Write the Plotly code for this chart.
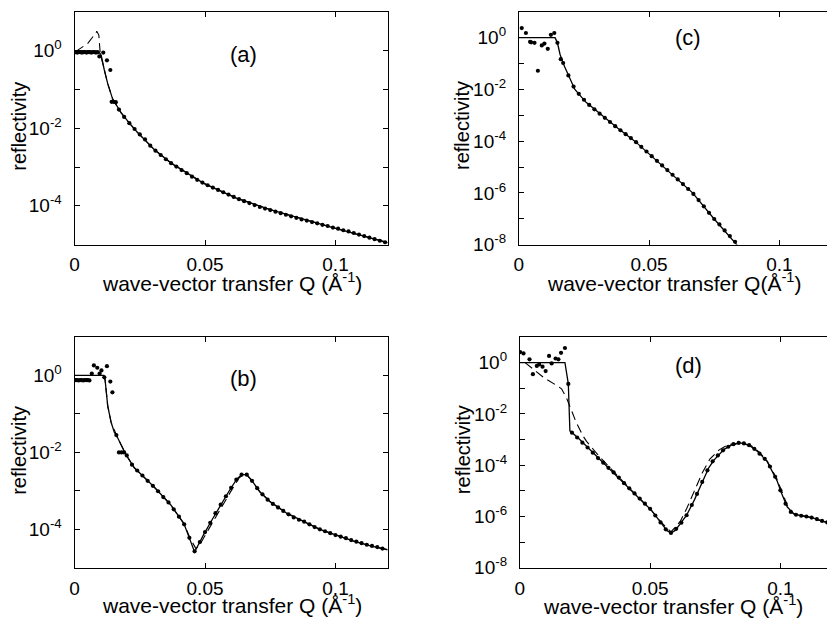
import numpy as np
import plotly.graph_objects as go

FONT = "Liberation Sans, Arial, Helvetica, sans-serif"

# ---------------- panel (a) ----------------
a_fit_q = [0.0, 0.0088, 0.0095, 0.0102, 0.0114, 0.0127, 0.0146, 0.0178, 0.021, 0.024, 0.0305,
           0.037, 0.0495, 0.062, 0.075, 0.0876, 0.1, 0.113, 0.12]
a_fit_logR = [0.0, -0.02, -0.05, -0.12, -0.5, -0.85, -1.25, -1.6, -1.87, -2.1, -2.55,
              -2.9, -3.42, -3.8, -4.1, -4.35, -4.58, -4.82, -4.95]
a_dash_q = [0.0005, 0.005, 0.0083, 0.0085, 0.0093, 0.0098, 0.0105, 0.0127, 0.0146, 0.0178, 0.021,
            0.024, 0.0305, 0.037, 0.0495, 0.062, 0.075, 0.0876, 0.1, 0.113, 0.12]
a_dash_logR = [-0.02, 0.18, 0.47, 0.5, 0.4, -0.05, -0.25, -0.85, -1.25, -1.6, -1.87,
               -2.1, -2.55, -2.9, -3.42, -3.8, -4.1, -4.35, -4.58, -4.82, -4.95]
a_data_q = [0.0004, 0.0010, 0.0016, 0.0022, 0.0028, 0.0034, 0.0040, 0.0046, 0.0052, 0.0058,
            0.0064, 0.0070, 0.0076, 0.0082, 0.0088, 0.0095, 0.0110, 0.0124, 0.0137,
            0.0142, 0.0150, 0.0158,
            0.017, 0.019, 0.021, 0.023, 0.025, 0.027, 0.029, 0.031, 0.033, 0.035, 0.037, 0.039,
            0.041, 0.043, 0.045, 0.047, 0.049, 0.051, 0.053, 0.055, 0.057, 0.059, 0.061, 0.063,
            0.065, 0.067, 0.069, 0.071, 0.073, 0.075, 0.077, 0.079, 0.081, 0.083, 0.085, 0.087,
            0.089, 0.091, 0.093, 0.095, 0.097, 0.099, 0.101, 0.103, 0.105, 0.107, 0.109, 0.111,
            0.113, 0.115, 0.117, 0.119]
a_data_logR = [-0.04, -0.05, -0.04, -0.04, -0.05, -0.04, -0.04, -0.05, -0.04, -0.04,
               -0.05, -0.04, -0.04, -0.05, -0.04, -0.15, -0.05, -0.25, -0.50,
               -1.32, -1.32, -1.33,
               -1.52, -1.71, -1.87, -2.02, -2.16, -2.29, -2.45, -2.58, -2.69, -2.80, -2.90, -2.99,
               -3.08, -3.16, -3.25, -3.33, -3.40, -3.47, -3.53, -3.59, -3.65, -3.71, -3.77, -3.83,
               -3.88, -3.93, -3.98, -4.03, -4.07, -4.11, -4.15, -4.19, -4.23, -4.27, -4.31, -4.35,
               -4.38, -4.42, -4.45, -4.49, -4.52, -4.56, -4.59, -4.63, -4.66, -4.70, -4.74, -4.78,
               -4.82, -4.86, -4.90, -4.94]

# ---------------- panel (b) ----------------
b_fit_q = [0.0, 0.0112, 0.0117, 0.0121, 0.0127, 0.014, 0.0152, 0.0165, 0.0178, 0.0197, 0.0229,
           0.0305, 0.0368, 0.0419, 0.0444, 0.046, 0.047, 0.0495, 0.0527, 0.0559, 0.059, 0.0622,
           0.0641, 0.066, 0.0679, 0.0711, 0.0749, 0.0813, 0.0876, 0.094, 0.1003, 0.1067, 0.113, 0.12]
b_fit_logR = [0.0, 0.0, -0.12, -0.37, -0.79, -1.22, -1.47, -1.62, -1.8, -2.06, -2.4,
              -2.9, -3.36, -3.85, -4.3, -4.59, -4.46, -4.13, -3.75, -3.37, -3.03, -2.69,
              -2.58, -2.58, -2.73, -3.03, -3.28, -3.58, -3.79, -4.0, -4.15, -4.3, -4.42, -4.53]
b_dash_q = [0.0, 0.0112, 0.0117, 0.0127, 0.014, 0.0165, 0.0197, 0.0229, 0.0305, 0.0368, 0.0419,
            0.0444, 0.0465, 0.048, 0.0505, 0.0537, 0.0569, 0.060, 0.063, 0.0645, 0.066, 0.0679,
            0.0711, 0.0749, 0.0813, 0.0876, 0.094, 0.1003, 0.1067, 0.113, 0.12]
b_dash_logR = [0.0, 0.0, -0.12, -0.79, -1.22, -1.62, -2.06, -2.4, -2.9, -3.36, -3.85,
               -4.25, -4.5, -4.4, -4.1, -3.72, -3.34, -3.0, -2.67, -2.58, -2.58, -2.73,
               -3.03, -3.28, -3.58, -3.79, -4.0, -4.15, -4.3, -4.42, -4.53]
b_data_q = [0.0003, 0.0009, 0.0015, 0.0021, 0.0027, 0.0033, 0.0039, 0.0045, 0.0051, 0.0057,
            0.0066, 0.0074, 0.0087, 0.0096, 0.0103, 0.0114, 0.0124, 0.0137, 0.0145, 0.0160,
            0.017, 0.018, 0.019, 0.020, 0.022, 0.024, 0.026, 0.028, 0.030, 0.032, 0.034, 0.036,
            0.038, 0.040, 0.042, 0.044, 0.046, 0.048, 0.050, 0.052, 0.054, 0.056, 0.058, 0.060,
            0.062, 0.064, 0.066, 0.068, 0.070, 0.072, 0.074, 0.076, 0.078, 0.080, 0.082, 0.084,
            0.086, 0.088, 0.090, 0.092, 0.094, 0.096, 0.098, 0.100, 0.102, 0.104, 0.106, 0.108,
            0.110, 0.112, 0.114, 0.116, 0.118]
b_data_logR = [-0.12, -0.12, -0.13, -0.12, -0.12, -0.13, -0.12, -0.12, -0.12, -0.13,
               0.05, 0.26, 0.20, 0.05, 0.13, -0.05, 0.24, -0.16, -0.44, -1.55,
               -2.0, -2.0, -2.0, -2.08, -2.32, -2.47, -2.60, -2.74, -2.87, -3.01, -3.16, -3.30,
               -3.48, -3.67, -3.87, -4.22, -4.57, -4.33, -4.07, -3.83, -3.58, -3.36, -3.14, -2.92,
               -2.71, -2.58, -2.58, -2.74, -2.93, -3.09, -3.23, -3.34, -3.43, -3.52, -3.61, -3.69,
               -3.75, -3.80, -3.87, -3.94, -4.00, -4.05, -4.10, -4.15, -4.19, -4.23, -4.28, -4.32,
               -4.36, -4.40, -4.43, -4.46, -4.50]

# ---------------- panel (c) ----------------
c_fit_q = [0.0, 0.0139, 0.0148, 0.0158, 0.0171, 0.019, 0.0215, 0.0258, 0.0317, 0.038, 0.0445,
           0.0557, 0.0667, 0.0749, 0.0839, 0.0845]
c_fit_logR = [0.0, 0.0, -0.2, -0.64, -1.02, -1.46, -2.0, -2.5, -3.0, -3.5, -4.0,
              -5.0, -6.0, -7.0, -8.0, -8.1]
c_data_q = [0.0011, 0.0027, 0.0043, 0.0047, 0.0060, 0.0073, 0.0088, 0.0098, 0.0111, 0.0123,
            0.0136, 0.0148, 0.0161,
            0.017, 0.019, 0.021, 0.023, 0.025, 0.027, 0.029, 0.031, 0.033, 0.035, 0.037, 0.039,
            0.041, 0.043, 0.045, 0.047, 0.049, 0.051, 0.053, 0.055, 0.057, 0.059, 0.061, 0.063,
            0.065, 0.067, 0.069, 0.071, 0.073, 0.075, 0.077, 0.079, 0.081, 0.083]
c_data_logR = [0.37, 0.18, -0.16, -0.18, -0.20, -1.28, -0.30, -0.23, -0.43, 0.11,
               0.18, -0.20, -0.83,
               -0.98, -1.46, -1.89, -2.17, -2.40, -2.60, -2.77, -2.94, -3.10, -3.26, -3.42, -3.58,
               -3.73, -3.88, -4.04, -4.22, -4.40, -4.58, -4.76, -4.94, -5.12, -5.30, -5.48, -5.66,
               -5.85, -6.04, -6.28, -6.52, -6.77, -7.01, -7.22, -7.45, -7.67, -7.89]

# ---------------- panel (d) ----------------
d_fit_q = [0.0, 0.0173, 0.0186, 0.0192, 0.0224, 0.0287, 0.0351, 0.0415, 0.0478, 0.0504, 0.0542,
           0.0565, 0.058, 0.0595, 0.0615, 0.064, 0.067, 0.070, 0.0725, 0.0745, 0.0784, 0.0815,
           0.0847, 0.088, 0.0911, 0.0949, 0.097, 0.0987, 0.1005, 0.1026, 0.1051, 0.108, 0.1115,
           0.1178, 0.12]
d_fit_logR = [0.0, 0.0, -0.83, -2.66, -2.94, -3.58, -4.21, -4.85, -5.49, -5.74, -6.25,
              -6.55, -6.64, -6.55, -6.3, -5.95, -5.35, -4.65, -4.1, -3.8, -3.38, -3.2,
              -3.13, -3.22, -3.45, -3.85, -4.25, -4.6, -5.1, -5.62, -5.9, -5.97, -6.02,
              -6.23, -6.3]
d_dash_q = [0.002, 0.0065, 0.009, 0.0141, 0.016, 0.018, 0.0205, 0.0215, 0.0243, 0.0256, 0.030,
            0.035, 0.040, 0.045, 0.050, 0.054, 0.058, 0.0615, 0.064, 0.067, 0.070, 0.073, 0.0765,
            0.080, 0.0847, 0.089, 0.092, 0.095, 0.0985, 0.1005, 0.1026, 0.105, 0.11, 0.1178]
d_dash_logR = [0.0, -0.38, -0.57, -0.89, -1.02, -1.4, -2.1, -2.3, -2.87, -3.07, -3.6,
               -4.15, -4.68, -5.2, -5.7, -6.2, -6.6, -6.2, -5.7, -5.0, -4.3, -3.75, -3.4,
               -3.2, -3.13, -3.25, -3.5, -3.85, -4.5, -5.0, -5.55, -5.88, -6.0, -6.23]
d_data_q = [0.0001, 0.0014, 0.0037, 0.0050, 0.0065, 0.0074, 0.0087, 0.0099, 0.0112, 0.0122,
            0.0137, 0.0148, 0.0158, 0.0173, 0.0186,
            0.020, 0.022, 0.024, 0.026, 0.028, 0.030, 0.032, 0.034, 0.036, 0.038, 0.040, 0.042,
            0.044, 0.046, 0.048, 0.050, 0.052, 0.054, 0.056, 0.058, 0.060, 0.062, 0.064, 0.066,
            0.068, 0.070, 0.072, 0.074, 0.076, 0.078, 0.080, 0.082, 0.084, 0.086, 0.088, 0.090,
            0.092, 0.094, 0.096, 0.098, 0.100, 0.102, 0.104, 0.106, 0.108, 0.110, 0.112, 0.114,
            0.116, 0.118]
d_data_logR = [0.41, 0.36, 0.13, -0.45, -0.13, -0.07, -0.16, -0.33, 0.26, -0.03,
               0.16, 0.13, 0.38, 0.57, -0.83,
               -2.73, -2.92, -3.12, -3.31, -3.51, -3.72, -3.90, -4.10, -4.28, -4.48, -4.70, -4.90,
               -5.10, -5.30, -5.50, -5.70, -5.96, -6.23, -6.50, -6.64, -6.48, -6.24, -5.95, -5.55,
               -5.12, -4.65, -4.20, -3.85, -3.62, -3.42, -3.28, -3.18, -3.13, -3.15, -3.22, -3.36,
               -3.55, -3.75, -4.05, -4.45, -4.98, -5.50, -5.82, -5.93, -5.97, -6.00, -6.04, -6.10,
               -6.17, -6.23]

# ---------------- ticks & labels ----------------
x_tick_vals = [0, 0.05, 0.1]
x_tick_text = ["0", "0.05", "0.1"]
y_tick_vals_ab = [1, 1e-1, 1e-2, 1e-3, 1e-4]
y_tick_text_ab = ["10<sup>0</sup>", "", "10<sup>-2</sup>", "", "10<sup>-4</sup>"]
y_tick_vals_cd = [1, 1e-1, 1e-2, 1e-3, 1e-4, 1e-5, 1e-6, 1e-7, 1e-8]
y_tick_text_cd = ["10<sup>0</sup>", "", "10<sup>-2</sup>", "", "10<sup>-4</sup>", "",
                  "10<sup>-6</sup>", "", "10<sup>-8</sup>"]
panel_labels = ["(a)", "(b)", "(c)", "(d)"]
y_title = "reflectivity"
x_title = "wave-vector transfer Q (Å<sup>-1</sup>)"
x_title_c = "wave-vector transfer Q(Å<sup>-1</sup>)"

W, H = 827, 625


def px_x(p):
    return p / W


def px_y(p):
    return 1 - p / H


fig = go.Figure()

panels = [
    ("a", a_fit_q, a_fit_logR, a_dash_q, a_dash_logR, a_data_q, a_data_logR, ""),
    ("b", b_fit_q, b_fit_logR, b_dash_q, b_dash_logR, b_data_q, b_data_logR, "2"),
    ("c", c_fit_q, c_fit_logR, None, None, c_data_q, c_data_logR, "3"),
    ("d", d_fit_q, d_fit_logR, d_dash_q, d_dash_logR, d_data_q, d_data_logR, "4"),
]

for name, fq, fl, dq, dl, mq, ml, sfx in panels:
    xa, ya = "x" + sfx, "y" + sfx
    if dq is not None:
        fig.add_trace(go.Scatter(x=dq, y=10 ** np.array(dl), mode="lines",
                                 line=dict(color="black", width=1.1, dash="9px,5px"),
                                 xaxis=xa, yaxis=ya, hoverinfo="skip"))
    fig.add_trace(go.Scatter(x=fq, y=10 ** np.array(fl), mode="lines",
                             line=dict(color="black", width=1.3),
                             xaxis=xa, yaxis=ya, hoverinfo="skip"))
    fig.add_trace(go.Scatter(x=mq, y=10 ** np.array(ml), mode="markers",
                             marker=dict(color="black", size=4.2),
                             xaxis=xa, yaxis=ya, hoverinfo="skip"))

tickfont = dict(family=FONT, size=19, color="black")


def xaxis(dom, rng, anchor):
    return dict(domain=dom, range=rng, anchor=anchor, showline=True, linecolor="black",
                linewidth=1, mirror="ticks", ticks="inside", ticklen=5, tickcolor="black",
                showgrid=False, zeroline=False, tickvals=x_tick_vals, ticktext=x_tick_text,
                tickfont=tickfont, ticklabelstandoff=3)


def yaxis(dom, rng, anchor, vals, text, mirror):
    return dict(domain=dom, range=rng, anchor=anchor, type="log", showline=True,
                linecolor="black", linewidth=1, mirror=mirror, ticks="inside", ticklen=5,
                tickcolor="black", showgrid=False, zeroline=False, tickvals=vals,
                ticktext=text, tickfont=tickfont, ticklabelstandoff=8)


top_dom = [px_y(249), px_y(12)]
bot_dom = [px_y(578), px_y(343)]
left_dom = [px_x(70), px_x(385)]
right_dom_c = [px_x(517), 1.0]
right_dom_d = [px_x(518), 1.0]

fig.update_layout(
    width=W, height=H, margin=dict(l=0, r=0, t=0, b=0),
    paper_bgcolor="white", plot_bgcolor="white", showlegend=False,
    font=dict(family=FONT, color="black"),
    xaxis=xaxis(left_dom, [0, 0.12], "y"),
    yaxis=yaxis(top_dom, [-5, 1], "x", y_tick_vals_ab, y_tick_text_ab, "ticks"),
    xaxis2=xaxis(left_dom, [0, 0.12], "y2"),
    yaxis2=yaxis(bot_dom, [-5, 1], "x2", y_tick_vals_ab, y_tick_text_ab, "ticks"),
    xaxis3=xaxis(right_dom_c, [0, 0.1183], "y3"),
    yaxis3=yaxis(top_dom, [-8, 1], "x3", y_tick_vals_cd, y_tick_text_cd, False),
    xaxis4=xaxis(right_dom_d, [0, 0.1179], "y4"),
    yaxis4=yaxis(bot_dom, [-8, 1], "x4", y_tick_vals_cd, y_tick_text_cd, False),
)

ann = []
title_font = dict(family=FONT, size=20, color="black")
xt_font = dict(family=FONT, size=21, color="black")
lab_font = dict(family=FONT, size=22, color="black")
# y titles
for xp, yp in [(14, 128), (14, 458), (460, 128), (461, 458)]:
    ann.append(dict(text=y_title, x=px_x(xp), y=px_y(yp), xref="paper", yref="paper",
                    textangle=-90, showarrow=False, font=title_font,
                    xanchor="center", yanchor="middle"))
# x titles
for txt, xp, yp in [(x_title, 228, 287), (x_title, 228, 615), (x_title_c, 673, 287),
                    (x_title, 672, 616)]:
    ann.append(dict(text=txt, x=px_x(xp), y=px_y(yp), xref="paper", yref="paper",
                    showarrow=False, font=xt_font, xanchor="center", yanchor="middle"))
# panel labels
for lab, xp, yp in zip(panel_labels, [240, 240, 687, 688], [55, 385, 38, 372]):
    ann.append(dict(text=lab, x=px_x(xp), y=px_y(yp), xref="paper", yref="paper",
                    showarrow=False, font=lab_font, xanchor="center", yanchor="middle"))
fig.update_layout(annotations=ann)

fig.write_html("out.html", config={"displayModeBar": False},
               post_script="document.body.style.margin='0';document.body.style.overflow='hidden';")
